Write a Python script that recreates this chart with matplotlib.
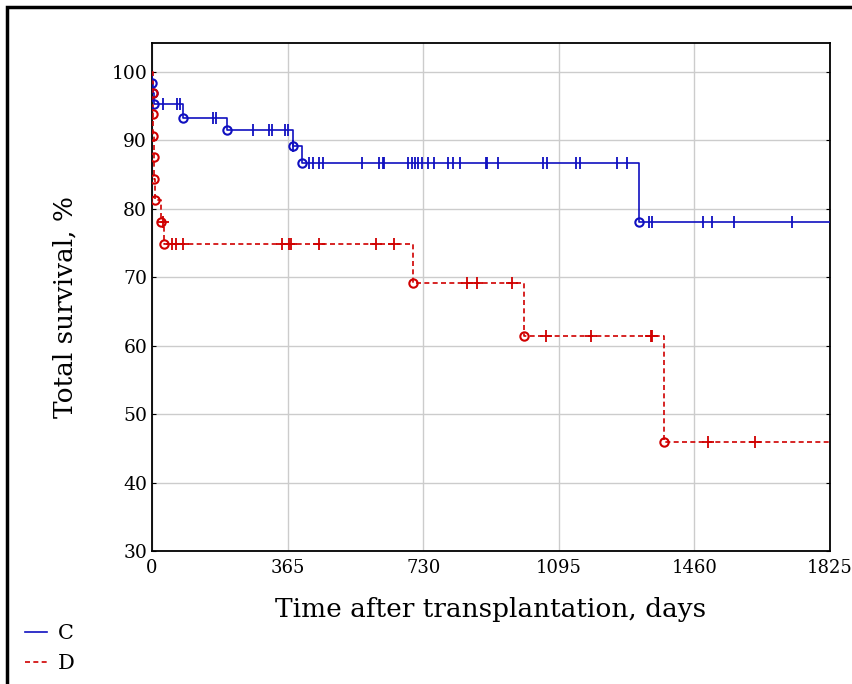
import numpy as np
import matplotlib.pyplot as plt
from matplotlib.patches import Rectangle

# group C: event times (days) and survival after each event (%)
c_times = [1, 3, 6, 84, 203, 379, 405, 1312]
c_surv = [98.4, 96.9, 95.3, 93.3, 91.5, 89.1, 86.6, 78.0]
c_censored = [29, 66, 75, 163, 172, 271, 316, 322, 358, 367, 380,
              423, 434, 450, 461, 564, 612, 623, 625, 690, 699, 708, 717,
              726, 744, 759, 798, 811, 829, 899, 901, 932, 1052, 1064,
              1141, 1152, 1252, 1279, 1339, 1345, 1482, 1507, 1567, 1722]

# group D
d_times = [2, 3, 4, 5, 6, 8, 23, 32, 702, 1001, 1378]
d_surv = [96.9, 93.8, 90.6, 87.5, 84.4, 81.3, 78.1, 74.9, 69.1, 61.4, 45.9]
d_censored = [29, 55, 65, 84, 349, 370, 373, 450, 603, 652,
              847, 876, 968, 1060, 1182, 1342, 1347, 1497, 1623]

x_ticks = [0, 365, 730, 1095, 1460, 1825]
y_ticks = [30, 40, 50, 60, 70, 80, 90, 100]

plt.rcParams['font.family'] = ['DejaVu Serif']

W, H = 852, 684
fig = plt.figure(figsize=(W / 100, H / 100), dpi=100)
ax = fig.add_axes([152 / W, 1 - 551 / H, (830 - 152) / W, (551 - 43) / H])

fig.patches.append(Rectangle((7 / W, -0.1), 1.2, 1 - 7 / H + 0.1,
                             transform=fig.transFigure, fill=False,
                             edgecolor='black', linewidth=2.5))


def level_at(times, surv, t):
    idx = np.searchsorted(times, t, side='right')
    return np.concatenate([[100.0], surv])[idx]


def draw_curve(times, surv, censored, color, ls, cmark, label):
    xs = np.concatenate([[0], times, [1825]])
    ys = np.concatenate([[100.0], surv, [surv[-1]]])
    ax.step(xs, ys, where='post', color=color, linestyle=ls, linewidth=1.2,
            label=label, zorder=3)
    ax.plot(times, surv, 'o', mfc='none', mec=color, ms=6, mew=1.5, zorder=4)
    cy = level_at(np.array(times), np.array(surv), np.array(censored))
    ax.plot(censored, cy, cmark, color=color, ms=9, mew=1.3, zorder=4)


draw_curve(c_times, c_surv, c_censored, '#1010c0', '-', '|', 'C')
draw_curve(d_times, d_surv, d_censored, '#d00000', (0, (3, 2)), '+', 'D')

ax.set_xlim(0, 1825)
ax.set_ylim(30, 104.2)
ax.set_xticks(x_ticks)
ax.set_yticks(y_ticks)
ax.grid(True, color='#cccccc', linewidth=1)
ax.set_axisbelow(True)
ax.tick_params(axis='x', length=0, labelsize=13, pad=6)
ax.tick_params(axis='y', direction='in', length=3, right=True, labelsize=13.5)
for s in ax.spines.values():
    s.set_linewidth(1.3)

ax.set_xlabel('Time after transplantation, days', fontsize=19, labelpad=14)
ax.set_ylabel('Total survival, %', fontsize=19)
ax.yaxis.set_label_coords(-0.11, 0.48)

fig.legend(loc='lower left', bbox_to_anchor=(10 / W, -4 / H), frameon=False,
           fontsize=15, handlelength=1.1, handletextpad=0.5,
           labelspacing=0.55, borderpad=0.2)

fig.savefig('out.png', dpi=100)
